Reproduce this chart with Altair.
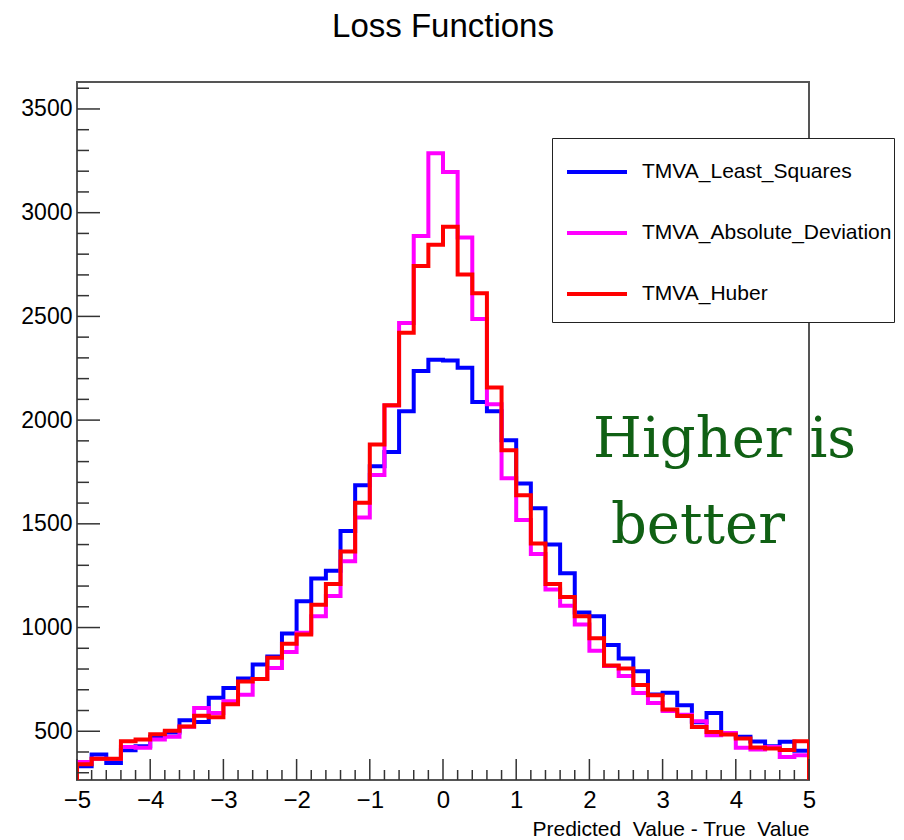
import altair as alt
import pandas as pd
import numpy as np

# ---------------- data ----------------
SERIES = ["TMVA_Least_Squares", "TMVA_Absolute_Deviation", "TMVA_Huber"]
COLORS = ["#0000ff", "#ff00ff", "#ff0000"]

BIN_EDGES = [round(-5.0 + 0.2 * i, 2) for i in range(51)]  # 50 bins of width 0.2

least_squares = [331, 388, 347, 408, 428, 473, 494, 553, 545, 662,
                 709, 754, 822, 860, 971, 1127, 1236, 1274, 1466, 1686,
                 1778, 1846, 2043, 2237, 2291, 2287, 2253, 2087, 2043, 1903,
                 1694, 1575, 1400, 1262, 1072, 1055, 916, 851, 789, 677,
                 686, 625, 543, 588, 489, 474, 451, 428, 450, 406]

absolute_deviation = [352, 368, 366, 424, 421, 460, 474, 522, 612, 588,
                      645, 676, 752, 805, 882, 975, 1055, 1152, 1319, 1531,
                      1735, 2070, 2468, 2888, 3287, 3196, 2880, 2487, 2077, 1720,
                      1518, 1355, 1183, 1105, 1015, 888, 815, 766, 684, 636,
                      598, 580, 548, 481, 492, 420, 412, 424, 376, 384]

huber = [341, 368, 368, 452, 460, 485, 502, 523, 575, 567,
         630, 740, 752, 854, 922, 966, 1110, 1210, 1367, 1601,
         1882, 2072, 2421, 2743, 2846, 2932, 2702, 2612, 2157, 1855,
         1638, 1405, 1210, 1147, 1055, 948, 817, 802, 723, 674,
         605, 574, 521, 497, 484, 465, 422, 417, 410, 452]

X_DOMAIN = [-5, 5]
Y_DOMAIN = [265, 3630]
X_MAJOR = [-5, -4, -3, -2, -1, 0, 1, 2, 3, 4, 5]
X_MINOR = BIN_EDGES
Y_MAJOR = [500, 1000, 1500, 2000, 2500, 3000, 3500]
Y_MINOR = list(range(300, 3700, 100))

NOTE_TEXT = ["Higher is", "better"]
NOTE_X = [2.05, 2.295]
NOTE_Y = [1824, 1407]

# ---------------- tables ----------------
rows = []
for name, vals in zip(SERIES, [least_squares, absolute_deviation, huber]):
    pts = [(BIN_EDGES[0], Y_DOMAIN[0])]
    for i, v in enumerate(vals):
        pts.append((BIN_EDGES[i], v))
    pts.append((BIN_EDGES[-1], vals[-1]))
    pts.append((BIN_EDGES[-1], Y_DOMAIN[0]))
    for k, (x, y) in enumerate(pts):
        rows.append({"series": name, "x": x, "y": y, "k": k})
hist = pd.DataFrame(rows)

W, H = 732, 698
xs = alt.Scale(domain=X_DOMAIN, nice=False, zero=False)
ys = alt.Scale(domain=Y_DOMAIN, nice=False, zero=False)
color_scale = alt.Scale(domain=SERIES, range=COLORS)

FONT = "Liberation Sans"
TICK_COLOR = "#333333"

legend = alt.Legend(
    title="\u00a0", titleOrient="bottom", titleFontSize=14, titlePadding=2,
    orient="none", legendX=475, legendY=56,
    symbolType="stroke", symbolSize=3600, symbolStrokeWidth=4,
    symbolOffset=11, labelOffset=13, labelFont=FONT, labelFontSize=21,
    labelColor="black", padding=2, rowPadding=19,
    strokeColor="#222222", fillColor="white", labelLimit=400,
)

x_axis = alt.Axis(values=X_MAJOR, ticks=False, domain=False, grid=False,
                  labelFont=FONT, labelFontSize=24, labelColor="black",
                  labelPadding=8, labelFlush=False, labelOverlap=False, format="d",
                  title="Predicted\u00a0\u00a0Value - True\u00a0\u00a0Value",
                  titleFont=FONT, titleFontSize=21, titleFontWeight="normal",
                  titleColor="black", titleAnchor="end", titlePadding=6)
y_axis = alt.Axis(values=Y_MAJOR, ticks=False, domain=False, grid=False,
                  labelFont=FONT, labelFontSize=23, labelColor="black",
                  labelPadding=5, labelFlush=False, labelOverlap=False, format="d",
                  title=None)

layers = []
for name in SERIES:
    layers.append(
        alt.Chart(hist).transform_filter(alt.datum.series == name)
        .mark_line(interpolate="step-after", strokeWidth=4, clip=True)
        .encode(
            x=alt.X("x:Q", scale=xs, axis=x_axis),
            y=alt.Y("y:Q", scale=ys, axis=y_axis),
            order="k:Q",
            color=alt.Color("series:N", scale=color_scale, legend=legend),
        )
    )

# ticks (inward, ROOT-style)
ymaj = pd.DataFrame({"y": Y_MAJOR})
ymin = pd.DataFrame({"y": [v for v in Y_MINOR if v not in Y_MAJOR]})
xmaj = pd.DataFrame({"x": X_MAJOR})
xmin = pd.DataFrame({"x": [v for v in X_MINOR if v not in X_MAJOR]})

tick_layers = [
    alt.Chart(ymaj).mark_rule(color=TICK_COLOR, strokeWidth=1.5).encode(
        y=alt.Y("y:Q", scale=ys, axis=y_axis), x=alt.value(0), x2=alt.value(23)),
    alt.Chart(ymin).mark_rule(color=TICK_COLOR, strokeWidth=1.5).encode(
        y=alt.Y("y:Q", scale=ys, axis=y_axis), x=alt.value(0), x2=alt.value(12)),
    alt.Chart(xmaj).mark_rule(color=TICK_COLOR, strokeWidth=1.5).encode(
        x=alt.X("x:Q", scale=xs, axis=x_axis), y=alt.value(H), y2=alt.value(H - 21)),
    alt.Chart(xmin).mark_rule(color=TICK_COLOR, strokeWidth=1.5).encode(
        x=alt.X("x:Q", scale=xs, axis=x_axis), y=alt.value(H), y2=alt.value(H - 10)),
]

note = alt.Chart(pd.DataFrame({"t": NOTE_TEXT, "x": NOTE_X, "y": NOTE_Y})).mark_text(
    align="left", baseline="alphabetic", font="DejaVu Serif", fontSize=56,
    color="#106014"
).encode(x=alt.X("x:Q", scale=xs, axis=x_axis), y=alt.Y("y:Q", scale=ys, axis=y_axis), text="t:N")

chart = alt.layer(*layers, *tick_layers, note).properties(
    width=W, height=H,
    title=alt.TitleParams("Loss Functions", font=FONT, fontSize=33, fontWeight="normal",
                          color="black", anchor="middle", offset=38),
    autosize=alt.AutoSizeParams(type="none"),
    padding={"left": 77, "top": 82, "right": 95, "bottom": 60},
).configure(
    background="white",
    view=alt.ViewConfig(stroke="#555555", strokeWidth=2),
)

chart.save("out.html", embed_options={"renderer": "svg", "actions": False})
